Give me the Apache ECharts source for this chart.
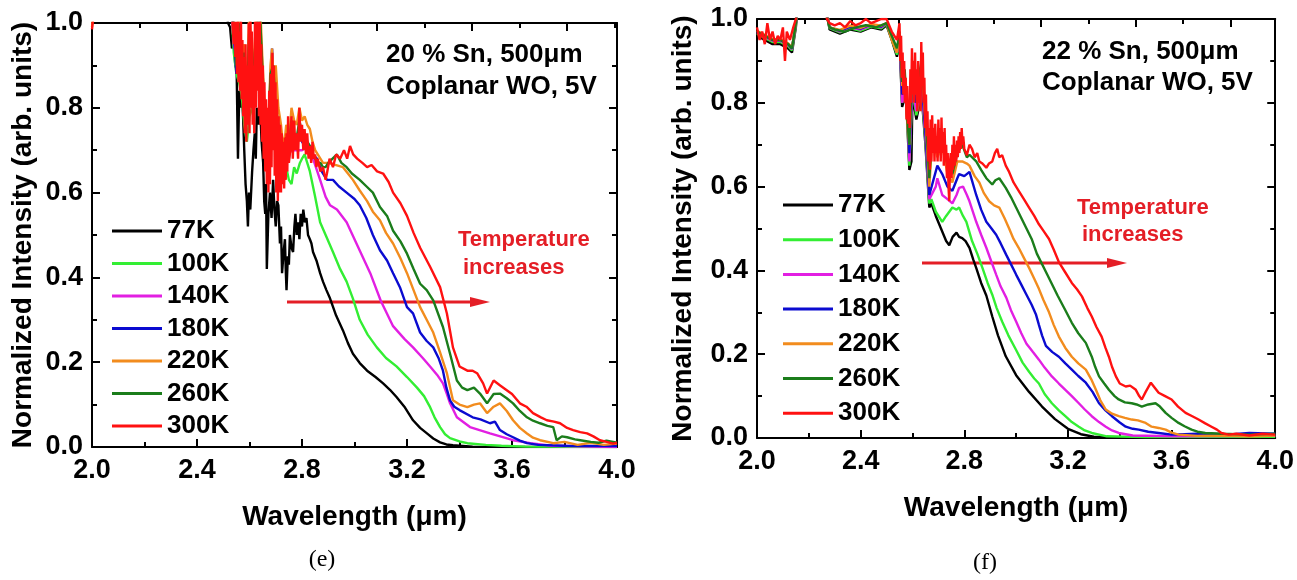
<!DOCTYPE html>
<html><head><meta charset="utf-8">
<script src="https://cdn.jsdelivr.net/npm/echarts@6/dist/echarts.min.js"></script>
<style>html,body{margin:0;padding:0;background:#fff}#c{width:1297px;height:580px}</style>
</head><body><div id="c"></div>
<script>
// ---------- DATA ----------
const seriesNames = ['77K','100K','140K','180K','220K','260K','300K'];
const seriesColors = ['#000000','#33ee33','#e21fe2','#0b0bd0','#f28c1e','#1b7d1b','#ff1111'];
const xTickLabels = ['2.0','2.4','2.8','3.2','3.6','4.0'];
const yTickLabels = ['0.0','0.2','0.4','0.6','0.8','1.0'];

// panel (e): 20 % Sn
const e77K = [[2.0,1.05],[2.51,1.05],[2.518,1.0],[2.526,0.99],[2.533,0.94],[2.54,0.96],[2.546,0.9],[2.551,0.89],[2.556,0.68],[2.561,0.84],[2.565,0.8],[2.57,0.86],[2.576,0.77],[2.58,0.7],[2.585,0.62],[2.59,0.58],[2.594,0.52],[2.598,0.6],[2.603,0.56],[2.61,0.65],[2.615,0.7],[2.62,0.74],[2.624,0.68],[2.628,0.8],[2.634,0.76],[2.64,0.816],[2.646,0.72],[2.652,0.67],[2.656,0.58],[2.66,0.55],[2.663,0.62],[2.666,0.42],[2.672,0.55],[2.678,0.6],[2.684,0.54],[2.69,0.63],[2.695,0.56],[2.70,0.52],[2.705,0.58],[2.71,0.57],[2.716,0.48],[2.72,0.52],[2.724,0.41],[2.73,0.46],[2.735,0.49],[2.738,0.42],[2.741,0.37],[2.746,0.45],[2.75,0.43],[2.754,0.5],[2.76,0.47],[2.766,0.46],[2.771,0.52],[2.775,0.55],[2.78,0.5],[2.785,0.53],[2.79,0.49],[2.795,0.55],[2.80,0.52],[2.805,0.56],[2.811,0.53],[2.817,0.54],[2.823,0.5],[2.83,0.49],[2.836,0.48],[2.842,0.46],[2.855,0.44],[2.869,0.41],[2.88,0.39],[2.893,0.37],[2.907,0.35],[2.93,0.31],[2.956,0.275],[2.975,0.245],[2.994,0.22],[3.02,0.198],[3.048,0.18],[3.08,0.165],[3.109,0.15],[3.135,0.135],[3.16,0.118],[3.19,0.095],[3.223,0.063],[3.25,0.045],[3.276,0.032],[3.3,0.02],[3.326,0.011],[3.35,0.006],[3.375,0.004],[3.45,0.001],[3.6,0],[4.0,0]];
const e100K = [[2.0,1.05],[2.53,1.05],[2.54,0.93],[2.55,0.88],[2.56,0.86],[2.57,0.83],[2.58,0.76],[2.59,0.72],[2.60,0.78],[2.61,0.8],[2.62,0.9],[2.63,0.95],[2.64,0.92],[2.65,0.8],[2.66,0.72],[2.67,0.7],[2.68,0.76],[2.69,0.85],[2.70,0.74],[2.71,0.68],[2.72,0.66],[2.73,0.64],[2.74,0.66],[2.75,0.63],[2.76,0.62],[2.77,0.66],[2.78,0.645],[2.792,0.67],[2.80,0.68],[2.81,0.69],[2.82,0.67],[2.83,0.65],[2.85,0.59],[2.869,0.53],[2.89,0.5],[2.918,0.46],[2.945,0.42],[2.97,0.39],[2.994,0.35],[3.02,0.30],[3.05,0.265],[3.085,0.235],[3.12,0.21],[3.16,0.19],[3.2,0.165],[3.238,0.14],[3.265,0.12],[3.288,0.094],[3.305,0.07],[3.326,0.047],[3.345,0.03],[3.364,0.021],[3.4,0.013],[3.43,0.009],[3.5,0.005],[3.56,0.003],[3.65,0.001],[4.0,0]];
const e140K = [[2.0,1.05],[2.53,1.05],[2.54,0.95],[2.56,0.9],[2.58,0.85],[2.60,0.92],[2.62,0.92],[2.64,0.95],[2.66,0.72],[2.68,0.82],[2.70,0.75],[2.72,0.68],[2.74,0.68],[2.76,0.7],[2.78,0.7],[2.80,0.7],[2.82,0.71],[2.842,0.68],[2.869,0.63],[2.89,0.59],[2.907,0.57],[2.933,0.56],[2.97,0.53],[3.0,0.49],[3.03,0.45],[3.06,0.41],[3.1,0.345],[3.147,0.285],[3.19,0.255],[3.223,0.235],[3.26,0.21],[3.288,0.19],[3.315,0.17],[3.337,0.15],[3.352,0.125],[3.364,0.103],[3.39,0.07],[3.44,0.047],[3.516,0.032],[3.604,0.016],[3.67,0.009],[3.75,0.003],[4.0,0]];
const e180K = [[2.0,1.05],[2.53,1.05],[2.54,0.98],[2.55,0.88],[2.56,0.98],[2.57,0.84],[2.58,0.9],[2.59,0.78],[2.60,0.98],[2.61,0.8],[2.62,0.9],[2.63,0.98],[2.64,1.0],[2.65,0.86],[2.66,0.74],[2.67,0.68],[2.68,0.86],[2.686,0.94],[2.695,0.8],[2.70,0.78],[2.71,0.74],[2.72,0.7],[2.73,0.66],[2.74,0.7],[2.75,0.68],[2.76,0.74],[2.77,0.72],[2.78,0.71],[2.79,0.74],[2.80,0.72],[2.81,0.71],[2.82,0.7],[2.83,0.69],[2.84,0.69],[2.857,0.68],[2.875,0.65],[2.895,0.63],[2.918,0.63],[2.94,0.615],[2.97,0.60],[3.0,0.585],[3.02,0.57],[3.045,0.54],[3.07,0.50],[3.097,0.464],[3.124,0.44],[3.147,0.41],[3.173,0.377],[3.2,0.33],[3.223,0.315],[3.25,0.27],[3.275,0.25],[3.3,0.235],[3.32,0.21],[3.337,0.18],[3.35,0.14],[3.364,0.11],[3.38,0.095],[3.40,0.087],[3.45,0.07],[3.48,0.065],[3.516,0.056],[3.535,0.06],[3.554,0.04],[3.58,0.03],[3.604,0.023],[3.63,0.015],[3.657,0.009],[3.7,0.005],[3.8,0.003],[4.0,0.002]];
const e220K = [[2.0,0.99],[2.01,1.05],[2.53,1.05],[2.54,1.0],[2.55,0.92],[2.56,1.05],[2.57,0.88],[2.58,0.95],[2.59,0.82],[2.60,1.05],[2.61,0.85],[2.62,0.95],[2.63,1.05],[2.64,1.05],[2.65,0.9],[2.66,0.78],[2.67,0.72],[2.68,0.9],[2.686,0.94],[2.695,0.82],[2.70,0.9],[2.71,0.8],[2.72,0.76],[2.73,0.7],[2.74,0.76],[2.75,0.72],[2.76,0.8],[2.77,0.77],[2.78,0.76],[2.79,0.80],[2.80,0.77],[2.81,0.78],[2.82,0.76],[2.83,0.75],[2.84,0.72],[2.85,0.7],[2.86,0.69],[2.87,0.68],[2.88,0.67],[2.90,0.67],[2.93,0.665],[2.956,0.66],[2.975,0.645],[2.994,0.63],[3.02,0.605],[3.048,0.58],[3.07,0.555],[3.097,0.535],[3.12,0.505],[3.147,0.48],[3.175,0.445],[3.2,0.41],[3.225,0.37],[3.25,0.33],[3.275,0.3],[3.3,0.27],[3.325,0.225],[3.352,0.174],[3.375,0.11],[3.4,0.1],[3.43,0.094],[3.455,0.1],[3.478,0.103],[3.505,0.08],[3.53,0.095],[3.554,0.103],[3.58,0.085],[3.604,0.063],[3.63,0.045],[3.657,0.032],[3.68,0.022],[3.707,0.016],[3.757,0.009],[3.8,0.012],[3.85,0.005],[3.9,0.01],[3.95,0.005],[4.0,0.008]];
const e260K = [[2.0,1.05],[2.53,1.05],[2.54,1.0],[2.55,0.9],[2.56,1.0],[2.57,0.86],[2.58,0.93],[2.59,0.8],[2.60,1.0],[2.61,0.83],[2.62,0.93],[2.63,1.0],[2.64,1.02],[2.65,0.88],[2.66,0.76],[2.67,0.7],[2.68,0.88],[2.69,0.9],[2.70,0.8],[2.71,0.76],[2.72,0.72],[2.73,0.68],[2.74,0.73],[2.75,0.7],[2.76,0.77],[2.77,0.74],[2.78,0.73],[2.79,0.77],[2.80,0.74],[2.81,0.74],[2.82,0.72],[2.83,0.71],[2.84,0.69],[2.85,0.68],[2.86,0.67],[2.87,0.67],[2.88,0.66],[2.89,0.66],[2.90,0.67],[2.933,0.69],[2.95,0.67],[2.97,0.66],[2.99,0.645],[3.02,0.63],[3.045,0.615],[3.07,0.60],[3.097,0.566],[3.124,0.545],[3.147,0.51],[3.175,0.485],[3.2,0.456],[3.225,0.42],[3.25,0.385],[3.275,0.37],[3.3,0.346],[3.337,0.283],[3.364,0.22],[3.39,0.157],[3.41,0.14],[3.43,0.134],[3.455,0.14],[3.478,0.126],[3.505,0.103],[3.53,0.125],[3.554,0.126],[3.58,0.115],[3.604,0.103],[3.63,0.085],[3.657,0.07],[3.68,0.062],[3.707,0.056],[3.735,0.05],[3.757,0.047],[3.77,0.016],[3.79,0.025],[3.81,0.023],[3.84,0.018],[3.86,0.016],[3.9,0.012],[3.93,0.01],[3.96,0.015],[4.0,0.01]];
const e300K = [[2.0,0.985],[2.01,1.05],[2.53,1.05],[2.540,0.95],[2.543,1.05],[2.546,0.92],[2.549,1.02],[2.552,0.88],[2.555,1.05],[2.558,0.86],[2.561,0.98],[2.564,0.84],[2.567,1.05],[2.570,0.82],[2.573,0.96],[2.576,0.78],[2.579,0.92],[2.582,0.74],[2.585,0.95],[2.588,0.72],[2.591,0.9],[2.594,0.76],[2.597,1.0],[2.600,0.74],[2.603,1.05],[2.606,0.8],[2.609,0.98],[2.612,0.76],[2.615,0.9],[2.618,0.74],[2.621,1.02],[2.624,0.8],[2.627,1.05],[2.630,0.84],[2.633,1.05],[2.636,0.78],[2.639,1.05],[2.642,0.76],[2.645,0.95],[2.648,0.72],[2.651,0.9],[2.654,0.68],[2.657,0.86],[2.660,0.65],[2.663,0.82],[2.666,0.62],[2.669,0.8],[2.672,0.6],[2.675,0.84],[2.678,0.62],[2.681,0.88],[2.684,0.66],[2.687,0.93],[2.690,0.7],[2.693,0.9],[2.696,0.64],[2.699,0.86],[2.702,0.6],[2.705,0.82],[2.708,0.58],[2.711,0.78],[2.714,0.6],[2.717,0.76],[2.720,0.6],[2.723,0.74],[2.726,0.62],[2.729,0.72],[2.732,0.61],[2.735,0.73],[2.738,0.63],[2.741,0.74],[2.744,0.65],[2.747,0.78],[2.75,0.67],[2.755,0.7],[2.76,0.78],[2.765,0.68],[2.77,0.77],[2.775,0.7],[2.78,0.74],[2.785,0.68],[2.79,0.8],[2.795,0.72],[2.80,0.76],[2.805,0.7],[2.81,0.75],[2.815,0.69],[2.82,0.74],[2.825,0.68],[2.83,0.71],[2.835,0.67],[2.84,0.72],[2.845,0.68],[2.85,0.69],[2.855,0.66],[2.86,0.68],[2.87,0.65],[2.88,0.66],[2.89,0.63],[2.895,0.645],[2.905,0.68],[2.918,0.66],[2.93,0.69],[2.945,0.68],[2.96,0.70],[2.972,0.68],[2.983,0.71],[2.995,0.69],[3.01,0.68],[3.03,0.67],[3.048,0.66],[3.065,0.665],[3.086,0.65],[3.109,0.645],[3.13,0.625],[3.147,0.6],[3.175,0.575],[3.2,0.545],[3.225,0.505],[3.25,0.47],[3.288,0.425],[3.326,0.377],[3.352,0.315],[3.365,0.27],[3.375,0.235],[3.4,0.19],[3.43,0.18],[3.45,0.18],[3.467,0.174],[3.49,0.15],[3.505,0.126],[3.53,0.157],[3.555,0.145],[3.58,0.134],[3.6,0.125],[3.63,0.103],[3.655,0.095],[3.68,0.08],[3.71,0.07],[3.733,0.063],[3.76,0.06],[3.783,0.056],[3.81,0.045],[3.833,0.04],[3.86,0.035],[3.886,0.032],[3.91,0.025],[3.935,0.016],[3.96,0.012],[3.985,0.008],[4.0,0.01]];

// panel (f): 22 % Sn
const f77K = [[2.0,0.96],[2.03,0.95],[2.06,0.94],[2.09,0.94],[2.12,0.93],[2.135,0.92],[2.15,0.98],[2.16,1.05],[2.26,1.05],[2.28,0.975],[2.32,0.965],[2.36,0.975],[2.4,0.97],[2.44,0.98],[2.48,0.975],[2.5,0.985],[2.52,0.95],[2.54,0.91],[2.55,0.95],[2.56,0.79],[2.575,0.82],[2.588,0.64],[2.596,0.66],[2.6,0.82],[2.615,0.76],[2.635,0.82],[2.65,0.7],[2.665,0.55],[2.673,0.56],[2.69,0.53],[2.71,0.5],[2.73,0.47],[2.742,0.46],[2.755,0.48],[2.77,0.49],[2.78,0.48],[2.792,0.477],[2.805,0.47],[2.82,0.454],[2.835,0.425],[2.846,0.406],[2.865,0.37],[2.885,0.34],[2.908,0.29],[2.93,0.245],[2.96,0.195],[3.0,0.15],[3.05,0.11],[3.1,0.075],[3.15,0.045],[3.2,0.022],[3.25,0.009],[3.3,0.003],[3.4,0.001],[4.0,0]];
const f100K = [[2.0,0.965],[2.03,0.955],[2.06,0.945],[2.09,0.945],[2.12,0.935],[2.135,0.925],[2.15,0.985],[2.16,1.05],[2.26,1.05],[2.28,0.978],[2.32,0.968],[2.36,0.978],[2.4,0.972],[2.44,0.982],[2.48,0.978],[2.5,0.988],[2.52,0.952],[2.54,0.915],[2.55,0.955],[2.56,0.8],[2.575,0.83],[2.588,0.65],[2.6,0.83],[2.615,0.77],[2.635,0.83],[2.65,0.71],[2.665,0.56],[2.673,0.57],[2.69,0.54],[2.715,0.516],[2.73,0.53],[2.754,0.55],[2.77,0.545],[2.78,0.55],[2.795,0.53],[2.808,0.516],[2.83,0.47],[2.85,0.44],[2.87,0.406],[2.89,0.37],[2.908,0.342],[2.925,0.31],[2.946,0.278],[2.97,0.245],[3.0,0.21],[3.025,0.18],[3.05,0.158],[3.07,0.142],[3.088,0.13],[3.11,0.105],[3.138,0.083],[3.165,0.066],[3.19,0.052],[3.215,0.038],[3.242,0.027],[3.265,0.018],[3.292,0.012],[3.35,0.004],[3.5,0.002],[4.0,0.003]];
const f140K = [[2.0,0.968],[2.03,0.958],[2.06,0.948],[2.09,0.948],[2.12,0.938],[2.135,0.928],[2.15,0.988],[2.16,1.05],[2.26,1.05],[2.28,0.98],[2.32,0.97],[2.36,0.98],[2.4,0.975],[2.44,0.985],[2.48,0.98],[2.5,0.99],[2.52,0.955],[2.54,0.92],[2.55,0.96],[2.56,0.8],[2.575,0.835],[2.588,0.66],[2.6,0.84],[2.615,0.78],[2.635,0.84],[2.65,0.72],[2.665,0.57],[2.69,0.6],[2.696,0.62],[2.715,0.58],[2.735,0.57],[2.754,0.56],[2.77,0.58],[2.78,0.597],[2.795,0.6],[2.81,0.58],[2.82,0.565],[2.846,0.516],[2.865,0.485],[2.885,0.454],[2.905,0.42],[2.923,0.39],[2.94,0.362],[2.962,0.335],[2.98,0.305],[3.0,0.278],[3.02,0.25],[3.04,0.225],[3.065,0.205],[3.088,0.187],[3.11,0.168],[3.138,0.147],[3.165,0.13],[3.19,0.115],[3.215,0.1],[3.242,0.083],[3.265,0.068],[3.292,0.052],[3.32,0.038],[3.346,0.027],[3.37,0.018],[3.396,0.012],[3.45,0.006],[3.6,0.004],[4.0,0.005]];
const f180K = [[2.0,0.97],[2.03,0.96],[2.06,0.95],[2.09,0.95],[2.12,0.94],[2.135,0.93],[2.15,0.99],[2.16,1.05],[2.26,1.05],[2.28,0.98],[2.32,0.972],[2.36,0.982],[2.4,0.977],[2.44,0.987],[2.48,0.982],[2.5,0.99],[2.52,0.958],[2.54,0.922],[2.55,0.962],[2.56,0.82],[2.575,0.84],[2.588,0.68],[2.6,0.86],[2.615,0.8],[2.635,0.86],[2.65,0.73],[2.665,0.58],[2.696,0.65],[2.715,0.63],[2.735,0.6],[2.754,0.59],[2.773,0.62],[2.78,0.63],[2.8,0.625],[2.82,0.635],[2.846,0.58],[2.865,0.545],[2.885,0.516],[2.905,0.5],[2.923,0.485],[2.94,0.465],[2.962,0.437],[2.98,0.415],[3.0,0.39],[3.02,0.366],[3.04,0.342],[3.06,0.318],[3.077,0.294],[3.088,0.27],[3.1,0.245],[3.115,0.22],[3.14,0.205],[3.165,0.194],[3.19,0.178],[3.215,0.163],[3.24,0.148],[3.269,0.132],[3.295,0.11],[3.32,0.083],[3.345,0.066],[3.37,0.052],[3.4,0.037],[3.423,0.027],[3.45,0.022],[3.473,0.02],[3.51,0.015],[3.55,0.012],[3.6,0.008],[3.7,0.01],[3.8,0.007],[3.9,0.012],[4.0,0.01]];
const f220K = [[2.0,0.972],[2.03,0.962],[2.06,0.952],[2.09,0.952],[2.12,0.942],[2.135,0.932],[2.15,0.99],[2.16,1.05],[2.26,1.05],[2.28,0.98],[2.32,0.974],[2.36,0.984],[2.4,0.979],[2.44,0.988],[2.48,0.984],[2.5,0.99],[2.52,0.95],[2.54,0.92],[2.55,0.96],[2.56,0.84],[2.57,0.87],[2.58,0.75],[2.588,0.7],[2.6,0.88],[2.615,0.82],[2.635,0.88],[2.652,0.74],[2.665,0.6],[2.677,0.72],[2.696,0.67],[2.715,0.7],[2.735,0.63],[2.754,0.61],[2.773,0.66],[2.792,0.66],[2.81,0.655],[2.82,0.65],[2.84,0.625],[2.858,0.61],[2.875,0.585],[2.896,0.565],[2.915,0.555],[2.935,0.55],[2.955,0.525],[2.973,0.50],[2.99,0.475],[3.01,0.454],[3.03,0.43],[3.05,0.406],[3.07,0.38],[3.088,0.356],[3.105,0.33],[3.127,0.3],[3.145,0.27],[3.165,0.242],[3.19,0.215],[3.215,0.194],[3.24,0.178],[3.269,0.163],[3.29,0.14],[3.308,0.115],[3.325,0.09],[3.346,0.068],[3.37,0.058],[3.396,0.052],[3.42,0.048],[3.446,0.044],[3.47,0.042],[3.5,0.036],[3.523,0.027],[3.55,0.024],[3.577,0.02],[3.6,0.013],[3.627,0.008],[3.7,0.005],[3.8,0.006],[3.9,0.004],[4.0,0.006]];
const f260K = [[2.0,0.97],[2.03,0.96],[2.06,0.95],[2.09,0.95],[2.12,0.94],[2.135,0.93],[2.15,0.99],[2.16,1.05],[2.25,1.05],[2.28,0.98],[2.3,0.975],[2.34,0.97],[2.38,0.98],[2.42,0.985],[2.46,0.98],[2.5,0.99],[2.52,0.96],[2.54,0.93],[2.55,0.97],[2.56,0.85],[2.57,0.88],[2.58,0.76],[2.588,0.7],[2.6,0.9],[2.615,0.83],[2.635,0.9],[2.652,0.76],[2.665,0.62],[2.677,0.74],[2.696,0.69],[2.715,0.73],[2.735,0.65],[2.754,0.63],[2.773,0.68],[2.792,0.7],[2.81,0.67],[2.82,0.676],[2.846,0.66],[2.865,0.64],[2.885,0.62],[2.908,0.605],[2.92,0.615],[2.935,0.62],[2.96,0.597],[2.98,0.575],[3.0,0.55],[3.02,0.525],[3.04,0.5],[3.06,0.475],[3.08,0.44],[3.12,0.39],[3.16,0.34],[3.19,0.305],[3.215,0.275],[3.24,0.25],[3.269,0.227],[3.292,0.194],[3.305,0.17],[3.32,0.147],[3.34,0.13],[3.358,0.115],[3.38,0.1],[3.396,0.092],[3.42,0.085],[3.446,0.083],[3.465,0.08],[3.485,0.075],[3.51,0.08],[3.538,0.083],[3.555,0.075],[3.577,0.06],[3.6,0.048],[3.627,0.036],[3.65,0.028],[3.677,0.02],[3.7,0.015],[3.73,0.012],[3.8,0.01],[3.9,0.008],[4.0,0.01]];
const f300K = [[2.0,0.98],[2.01,0.95],[2.02,0.97],[2.03,0.94],[2.04,0.99],[2.05,0.95],[2.06,0.97],[2.07,0.94],[2.08,0.96],[2.09,0.95],[2.1,0.98],[2.108,0.90],[2.115,0.97],[2.127,0.95],[2.14,0.98],[2.15,1.0],[2.16,1.05],[2.25,1.05],[2.27,1.0],[2.28,0.99],[2.3,0.985],[2.32,0.99],[2.34,0.98],[2.36,0.995],[2.38,0.985],[2.4,0.99],[2.42,1.0],[2.44,0.99],[2.46,0.995],[2.48,1.0],[2.50,1.0],[2.52,0.97],[2.54,0.95],[2.550,0.99],[2.553,0.9],[2.556,0.96],[2.559,0.86],[2.562,0.92],[2.565,0.82],[2.568,0.9],[2.571,0.8],[2.574,0.86],[2.577,0.76],[2.580,0.84],[2.583,0.75],[2.586,0.8],[2.589,0.74],[2.592,0.88],[2.595,0.8],[2.598,0.93],[2.601,0.82],[2.604,0.9],[2.607,0.8],[2.610,0.92],[2.613,0.82],[2.616,0.88],[2.619,0.78],[2.622,0.9],[2.625,0.8],[2.628,0.86],[2.631,0.78],[2.634,0.945],[2.637,0.84],[2.640,0.92],[2.643,0.8],[2.646,0.86],[2.649,0.74],[2.652,0.82],[2.655,0.72],[2.658,0.78],[2.661,0.66],[2.664,0.74],[2.667,0.64],[2.670,0.76],[2.673,0.66],[2.676,0.77],[2.679,0.68],[2.682,0.74],[2.685,0.66],[2.688,0.75],[2.691,0.68],[2.694,0.72],[2.697,0.66],[2.700,0.76],[2.703,0.68],[2.706,0.74],[2.709,0.66],[2.712,0.765],[2.715,0.68],[2.718,0.73],[2.721,0.65],[2.724,0.74],[2.727,0.66],[2.730,0.7],[2.733,0.62],[2.736,0.68],[2.739,0.6],[2.742,0.565],[2.745,0.66],[2.748,0.68],[2.751,0.62],[2.754,0.7],[2.757,0.64],[2.760,0.72],[2.763,0.65],[2.766,0.7],[2.769,0.66],[2.772,0.71],[2.775,0.67],[2.778,0.72],[2.781,0.68],[2.784,0.73],[2.787,0.69],[2.790,0.74],[2.793,0.7],[2.796,0.72],[2.8,0.69],[2.81,0.675],[2.82,0.7],[2.83,0.69],[2.84,0.67],[2.85,0.68],[2.858,0.66],[2.87,0.655],[2.885,0.645],[2.895,0.655],[2.908,0.66],[2.918,0.68],[2.927,0.69],[2.935,0.67],[2.946,0.675],[2.96,0.65],[2.973,0.635],[2.99,0.61],[3.01,0.59],[3.03,0.57],[3.05,0.55],[3.07,0.53],[3.088,0.51],[3.105,0.495],[3.127,0.475],[3.145,0.45],[3.165,0.42],[3.19,0.395],[3.215,0.37],[3.235,0.355],[3.254,0.338],[3.275,0.31],[3.292,0.29],[3.31,0.265],[3.33,0.242],[3.345,0.215],[3.358,0.194],[3.37,0.17],[3.385,0.147],[3.4,0.13],[3.423,0.123],[3.44,0.125],[3.462,0.115],[3.475,0.1],[3.485,0.092],[3.5,0.11],[3.52,0.132],[3.535,0.12],[3.55,0.108],[3.575,0.1],[3.6,0.092],[3.625,0.075],[3.654,0.06],[3.68,0.052],[3.704,0.044],[3.73,0.035],[3.754,0.027],[3.775,0.02],[3.792,0.012],[3.82,0.008],[3.85,0.01],[3.9,0.006],[3.95,0.01],[4.0,0.008]];

const panelE = [e77K,e100K,e140K,e180K,e220K,e260K,e300K];
const panelF = [f77K,f100K,f140K,f180K,f220K,f260K,f300K];

// ---------- CHART ----------
const FONT = 'Arial, "Liberation Sans", sans-serif';
const chart = echarts.init(document.getElementById('c'), null, {renderer:'canvas'});
const black = '#000';
const lineW = 2;

function bottomAxis(g, gap){
  return {type:'value', gridIndex:g, position:'bottom', min:2, max:4, interval:0.4,
    name:'Wavelength (μm)', nameLocation:'middle', nameGap:gap,
    nameTextStyle:{fontSize:28,fontWeight:'bold',color:black,fontFamily:FONT},
    axisLine:{show:true,lineStyle:{color:black,width:lineW}},
    axisTick:{show:true,inside:true,length:8,lineStyle:{color:black,width:lineW}},
    minorTick:{show:true,splitNumber:2,length:5,lineStyle:{color:black,width:lineW}},
    splitLine:{show:false}, minorSplitLine:{show:false},
    axisLabel:{fontSize:27,fontWeight:'bold',color:black,fontFamily:FONT,margin:10,
      formatter:v=>{const s=v.toFixed(1);return xTickLabels.includes(s)?s:'';}}};
}
function topAxis(g, mx){
  return {type:'value', gridIndex:g, position:'top', min:0, max:mx, interval:1,
    axisLine:{show:true,onZero:false,lineStyle:{color:black,width:lineW}},
    axisTick:{show:true,inside:true,length:8,lineStyle:{color:black,width:lineW}},
    minorTick:{show:true,splitNumber:2,length:5,lineStyle:{color:black,width:lineW}},
    axisLabel:{show:false}, splitLine:{show:false}};
}
function leftAxis(g, gap){
  return {type:'value', gridIndex:g, position:'left', min:0, max:1, interval:0.2,
    name:'Normalized Intensity (arb. units)', nameLocation:'middle', nameRotate:90, nameGap:gap,
    nameTextStyle:{fontSize:28,fontWeight:'bold',color:black,fontFamily:FONT},
    axisLine:{show:true,onZero:false,lineStyle:{color:black,width:lineW}},
    axisTick:{show:true,inside:true,length:8,lineStyle:{color:black,width:lineW}},
    minorTick:{show:true,splitNumber:2,length:5,lineStyle:{color:black,width:lineW}},
    splitLine:{show:false},
    axisLabel:{fontSize:27,fontWeight:'bold',color:black,fontFamily:FONT,margin:9,
      formatter:v=>{const s=v.toFixed(1);return yTickLabels.includes(s)?s:'';}}};
}
function rightAxis(g){
  return {type:'value', gridIndex:g, position:'right', min:0, max:1, interval:0.2,
    axisLine:{show:true,onZero:false,lineStyle:{color:black,width:lineW}},
    axisTick:{show:true,inside:true,length:8,lineStyle:{color:black,width:lineW}},
    minorTick:{show:true,splitNumber:2,length:5,lineStyle:{color:black,width:lineW}},
    axisLabel:{show:false}, splitLine:{show:false}};
}

const series = [];
[panelE, panelF].forEach((panel, p) => {
  panel.forEach((d, i) => {
    series.push({type:'line', name:seriesNames[i], xAxisIndex:p*2, yAxisIndex:p*2,
      data:d, showSymbol:false, symbol:'none', clip:true, z:2+i,
      lineStyle:{width:2.4, color:seriesColors[i]}, itemStyle:{color:seriesColors[i]}});
  });
});

function legendCfg(left, top, gap){
  return {data:seriesNames, orient:'vertical', left:left, top:top, icon:'rect',
    itemWidth:50, itemHeight:3, itemGap:gap, selectedMode:false,
    textStyle:{fontSize:26,fontWeight:'bold',color:black,fontFamily:FONT}};
}

const red = '#e41e26';
function txt(x,y,t,size,color,family,align){
  return {type:'text', x:x, y:y, z:100, style:{text:t, fill:color, font:`bold ${size}px ${family}`,
    textAlign:align||'left', textVerticalAlign:'middle'}};
}
function arrow(x1,x2,y){
  return {type:'group', z:100, children:[
    {type:'line', shape:{x1:x1,y1:y,x2:x2-14,y2:y}, style:{stroke:red,lineWidth:3}},
    {type:'polygon', shape:{points:[[x2-20,y-5],[x2,y],[x2-20,y+5]]}, style:{fill:red}}
  ]};
}

chart.setOption({
  animation:false,
  backgroundColor:'#fff',
  grid:[{left:92,top:23,width:525,height:424},{left:757,top:19,width:520,height:419}],
  xAxis:[bottomAxis(0,56), topAxis(0,525/95), bottomAxis(1,56), topAxis(1,520/95)],
  yAxis:[leftAxis(0,55), rightAxis(0), leftAxis(1,60), rightAxis(1)],
  legend:[legendCfg(107,213,6.5), legendCfg(778,187,8.7)],
  series:series,
  graphic:[
    txt(386,55,'20 % Sn, 500μm',26,black,FONT),
    txt(386,87,'Coplanar WO, 5V',26,black,FONT),
    txt(1042,52,'22 % Sn, 500μm',26,black,FONT),
    txt(1042,83,'Coplanar WO, 5V',26,black,FONT),
    txt(458,240,'Temperature',22,red,FONT),
    txt(463,268,'increases',22,red,FONT),
    txt(1077,208,'Temperature',22,red,FONT),
    txt(1082,235,'increases',22,red,FONT),
    arrow(287,490,302),
    arrow(922,1127,263),
    {type:'text', x:322, y:560, style:{text:'(e)', fill:black, font:'24px "Liberation Serif", "Times New Roman", serif', textAlign:'center', textVerticalAlign:'middle'}},
    {type:'text', x:985, y:563, style:{text:'(f)', fill:black, font:'24px "Liberation Serif", "Times New Roman", serif', textAlign:'center', textVerticalAlign:'middle'}}
  ]
});
</script>
</body></html>
